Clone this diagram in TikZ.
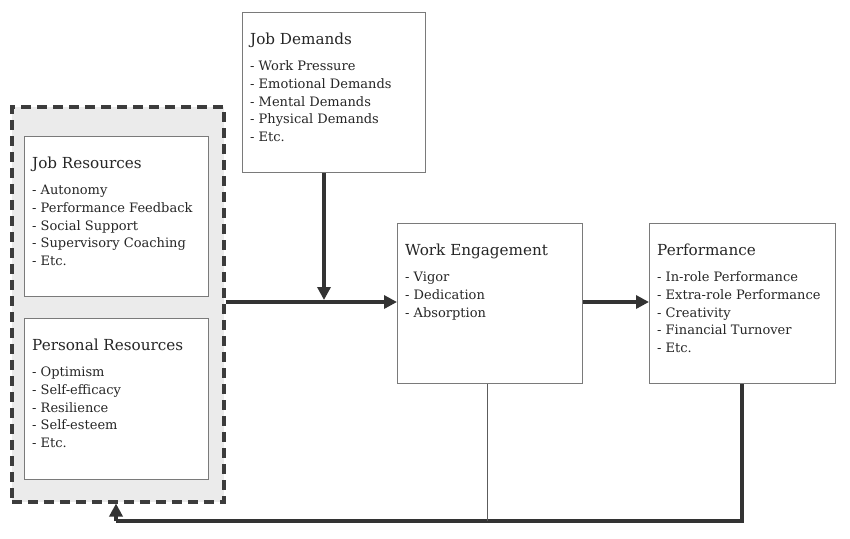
\documentclass[tikz,border=0pt]{standalone}
\usepackage{fontspec}
\setmainfont{DejaVu Serif}
\usetikzlibrary{arrows.meta}
\definecolor{boxgray}{HTML}{7A7A7A}
\definecolor{arrowdark}{HTML}{333333}
\definecolor{dashgray}{HTML}{3C3C3C}
\definecolor{panelfill}{HTML}{EBEBEB}
\tikzset{
  box/.style={draw=boxgray, line width=1.3pt, fill=white, anchor=north west, inner sep=0pt},
  txt/.style={anchor=north west, inner sep=0pt, align=left, font=\fontsize{13}{17.6}\selectfont, text=black!85},
  thick arrow/.style={draw=arrowdark, line width=4pt, -{Triangle[length=13pt,width=13pt]}},
  thick line/.style={draw=arrowdark, line width=4pt},
  thin line/.style={draw=arrowdark!80, line width=1pt},
  panel/.style={draw=dashgray, line width=3.5pt, dash pattern=on 10pt off 6pt, fill=panelfill, anchor=north west, inner sep=0pt}
}
\newcommand{\ttlline}[1]{{\fontsize{15.2}{18}\selectfont #1}\\[8.5pt]}
\begin{document}
\begin{tikzpicture}[x=1pt,y=-1pt]
\useasboundingbox (0,0) rectangle (850,538);
% panel
\node[panel, minimum width=212pt, minimum height=395pt] (panel) at (10,105) {};
% boxes
\node[box, minimum width=184pt, minimum height=160pt] (jr) at (24,136) {};
\node[box, minimum width=184pt, minimum height=161pt] (pr) at (24,318) {};
\node[box, minimum width=183pt, minimum height=160pt] (jd) at (242,12) {};
\node[box, minimum width=185pt, minimum height=160pt] (we) at (397,223) {};
\node[box, minimum width=186pt, minimum height=160pt] (pf) at (649,223) {};
% texts
\node[txt] (jrt) at ([xshift=8pt,yshift=-21pt]jr.north west) {\ttlline{Job Resources}- Autonomy\\- Performance Feedback\\- Social Support\\- Supervisory Coaching\\- Etc.};
\node[txt] (prt) at ([xshift=8pt,yshift=-21pt]pr.north west) {\ttlline{Personal Resources}- Optimism\\- Self-efficacy\\- Resilience\\- Self-esteem\\- Etc.};
\node[txt] (jdt) at ([xshift=8pt,yshift=-21pt]jd.north west) {\ttlline{Job Demands}- Work Pressure\\- Emotional Demands\\- Mental Demands\\- Physical Demands\\- Etc.};
\node[txt] (wet) at ([xshift=8pt,yshift=-21pt]we.north west) {\ttlline{Work Engagement}- Vigor\\- Dedication\\- Absorption};
\node[txt] (pft) at ([xshift=8pt,yshift=-21pt]pf.north west) {\ttlline{Performance}- In-role Performance\\- Extra-role Performance\\- Creativity\\- Financial Turnover\\- Etc.};
% connectors
\coordinate (jmeet) at (324,302);
\draw[thick arrow] (panel.east |- jmeet) -- (we.west |- jmeet);
\draw[thick arrow] (jd.south -| jmeet) -- ([yshift=2pt]jmeet);
\draw[thick arrow] (we.east |- jmeet) -- (pf.west |- jmeet);
\coordinate (fbr) at (742,521);
\coordinate (fbl) at (116,521);
\draw[thick line] (pf.south -| fbr) -- (fbr) -- (fbl);
\draw[thick arrow] (fbl) -- (panel.south -| fbl);
\draw[thin line] (we.south -| 487,0) -- (487,521);
\end{tikzpicture}
\end{document}
